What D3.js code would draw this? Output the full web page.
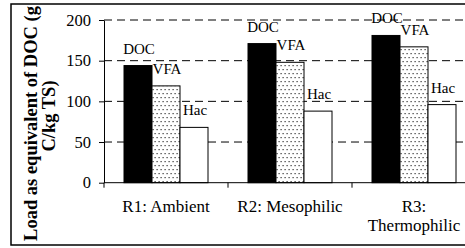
<!DOCTYPE html>
<html lang="en">
<head>
<meta charset="utf-8">
<title>Load as equivalent of DOC</title>
<style>
  body { margin: 0; background: #fff; }
  text { font-family: "Liberation Serif", "Times New Roman", serif; fill: #000; }
</style>
</head>
<body>
<script src="https://cdn.jsdelivr.net/npm/d3@7"></script>
<script>
// data
var categories = ["R1: Ambient", "R2: Mesophilic", "R3: Thermophilic"];
var categoryLines = [["R1: Ambient"], ["R2: Mesophilic"], ["R3:", "Thermophilic"]];
var seriesNames = ["DOC", "VFA", "Hac"];
var docValues = [144, 171, 181];
var vfaValues = [119, 148, 167];
var hacValues = [68, 88, 96];
var yTicks = [0, 50, 100, 150, 200];
var gridTicks = [50, 100, 150, 200];

var width = 465, height = 248;
var plot_left = 104, plot_right = 476, plot_top = 20, plot_bottom = 182.7;

var svg = d3.select("body").append("svg")
  .attr("width", width).attr("height", height);

// dotted fill for VFA
var defs = svg.append("defs");
var pat = defs.append("pattern").attr("id", "dots")
  .attr("patternUnits", "userSpaceOnUse").attr("width", 4).attr("height", 8);
pat.append("rect").attr("width", 4).attr("height", 8).attr("fill", "#fff");
pat.append("rect").attr("x", 0.5).attr("y", 1).attr("width", 1.2).attr("height", 1.2).attr("fill", "#333");
pat.append("rect").attr("x", 2.5).attr("y", 5).attr("width", 1.2).attr("height", 1.2).attr("fill", "#333");

defs.append("clipPath").attr("id", "frame")
  .append("rect").attr("x", 11).attr("y", 4).attr("width", 470).attr("height", 241);

var rows = seriesNames.map(function (name, i) {
  var vals = [docValues, vfaValues, hacValues][i];
  return { name: name, values: vals };
});
var fills = { DOC: "#000", VFA: "url(#dots)", Hac: "#fff" };

var x = d3.scaleBand().domain(categories).range([plot_left, plot_right]);
var xs = d3.scaleBand().domain(seriesNames)
  .range([20, x.bandwidth() - 20]);
var y = d3.scaleLinear().domain([0, 200]).range([plot_bottom, plot_top]);

// gridlines
svg.append("g").selectAll("line").data(gridTicks).enter().append("line")
  .attr("x1", plot_left).attr("x2", plot_right)
  .attr("y1", function (d) { return y(d); })
  .attr("y2", function (d) { return y(d); })
  .attr("stroke", "#000").attr("stroke-width", 1)
  .attr("stroke-dasharray", "8,5");

// bars
var groups = svg.append("g").selectAll("g").data(categories).enter().append("g")
  .attr("transform", function (d) { return "translate(" + x(d) + ",0)"; });

groups.selectAll("rect")
  .data(function (d, ci) {
    return rows.map(function (r) { return { name: r.name, value: r.values[ci] }; });
  })
  .enter().append("rect")
  .attr("x", function (d) { return xs(d.name); })
  .attr("y", function (d) { return y(d.value); })
  .attr("width", xs.bandwidth())
  .attr("height", function (d) { return y(0) - y(d.value); })
  .attr("fill", function (d) { return fills[d.name]; })
  .attr("stroke", "#000").attr("stroke-width", 1);

groups.selectAll("text.lbl")
  .data(function (d, ci) {
    return rows.map(function (r) { return { name: r.name, value: r.values[ci] }; });
  })
  .enter().append("text")
  .attr("class", "lbl")
  .attr("x", function (d) { return xs(d.name) + xs.bandwidth() / 2 + 1; })
  .attr("y", function (d) { return y(d.value) - 12; })
  .attr("text-anchor", "middle")
  .style("font-size", "15px")
  .text(function (d) { return d.name; });

// y axis
var yAxis = svg.append("g")
  .attr("transform", "translate(" + plot_left + ",0)")
  .call(d3.axisLeft(y).tickValues(yTicks).tickSize(5).tickSizeOuter(0).tickPadding(8));
yAxis.selectAll("path, line").attr("stroke", "#000");
yAxis.selectAll("text").style("font-size", "16.5px")
  .style("font-family", "'Liberation Serif', 'Times New Roman', serif");

// x axis: line with ticks at category boundaries
var xAxis = svg.append("g");
xAxis.append("line").attr("x1", plot_left).attr("x2", plot_right)
  .attr("y1", y(0)).attr("y2", y(0)).attr("stroke", "#000");
var bounds = categories.map(function (c) { return x(c); }).concat([x(categories[2]) + x.bandwidth()]);
xAxis.selectAll("line.tk").data(bounds).enter().append("line")
  .attr("class", "tk")
  .attr("x1", function (d) { return d; }).attr("x2", function (d) { return d; })
  .attr("y1", y(0)).attr("y2", y(0) + 5).attr("stroke", "#000");

var catText = xAxis.selectAll("text").data(categories).enter().append("text")
  .attr("x", function (d) { return x(d) + x.bandwidth() / 2; })
  .attr("y", 212)
  .attr("text-anchor", "middle")
  .style("font-size", "17px");
catText.selectAll("tspan")
  .data(function (d, i) { return categoryLines[i]; })
  .enter().append("tspan")
  .attr("x", function () { return d3.select(this.parentNode).attr("x"); })
  .attr("dy", function (d, i) { return i === 0 ? 0 : 19; })
  .text(function (d) { return d; });

// y title, two lines, bold
var yTitle = svg.append("g").attr("clip-path", "url(#frame)")
  .append("text")
  .attr("transform", "translate(37,0) rotate(-90)")
  .attr("text-anchor", "middle")
  .style("font-size", "18.5px")
  .style("font-weight", "bold");
yTitle.append("tspan").attr("x", -123.5).attr("y", 0).text("Load as equivalent of DOC (g");
yTitle.append("tspan").attr("x", -116).attr("y", 18).text("C/kg TS)");

// chart frame
svg.append("rect")
  .attr("x", 11).attr("y", 4).attr("width", 470).attr("height", 241)
  .attr("fill", "none").attr("stroke", "#000").attr("stroke-width", 1.5);
</script>
</body>
</html>
